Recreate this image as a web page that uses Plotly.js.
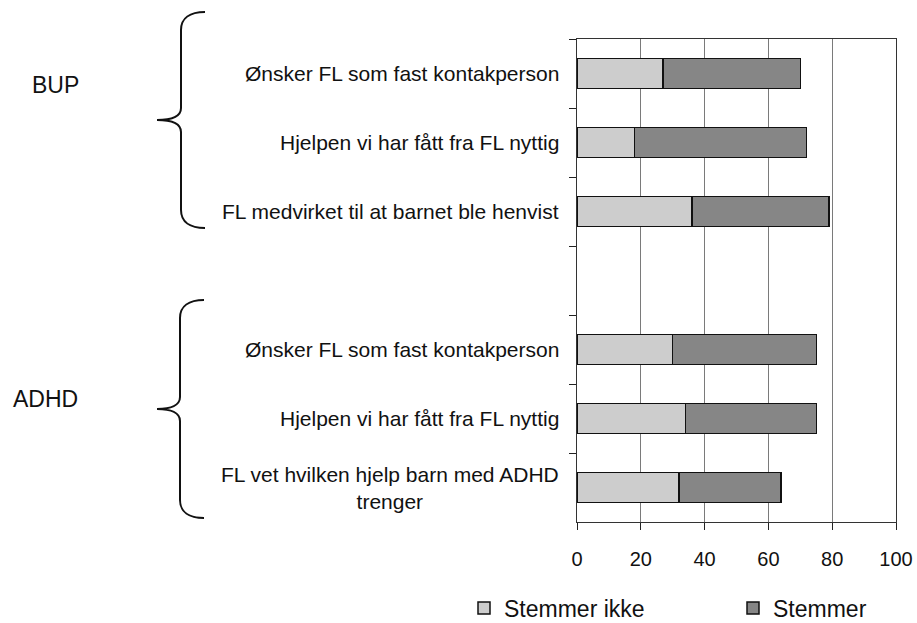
<!DOCTYPE html>
<html>
<head>
<meta charset="utf-8">
<script src="https://cdn.plot.ly/plotly-3.0.1.min.js"></script>
<style>html,body{margin:0;padding:0;background:#fff;}#chart{width:917px;height:623px;}</style>
</head>
<body>
<div id="chart"></div>
<script>
// ---- data ----
var categoryKeys = ["bup1", "bup2", "bup3", "gap", "adhd1", "adhd2", "adhd3"];
var categoryLabels = [
  "Ønsker FL som fast kontakperson",
  "Hjelpen vi har fått fra FL nyttig",
  "FL medvirket til at barnet ble henvist",
  "",
  "Ønsker FL som fast kontakperson",
  "Hjelpen vi har fått fra FL nyttig",
  "FL vet hvilken hjelp barn med ADHD<br>trenger"
];
var stemmerIkke = [27, 18, 36, null, 30, 34, 32];
var stemmer = [43, 54, 43, null, 45, 41, 32];
var seriesNames = ["Stemmer ikke", "Stemmer"];
var groupNames = ["BUP", "ADHD"];
var xTicks = [0, 20, 40, 60, 80, 100];

// ---- layout helpers ----
var W = 917, H = 623;
var M = {l: 577, r: 21, t: 39, b: 101, autoexpand: false};
var pw = W - M.l - M.r, ph = H - M.t - M.b;
function px(x) { return (x - M.l) / pw; }
function py(y) { return (H - M.b - y) / ph; }
function brace(xTip, xLine, xEnd, yTop, yBot) {
  var yMid = (yTop + yBot) / 2;
  var r = 18, k = 12;
  var p = [];
  p.push("M" + px(xEnd) + "," + py(yTop));
  p.push("C" + px(xLine + 9) + "," + py(yTop) + " " + px(xLine) + "," + py(yTop + 6) + " " + px(xLine) + "," + py(yTop + r));
  p.push("L" + px(xLine) + "," + py(yMid - k));
  p.push("C" + px(xLine) + "," + py(yMid - 4) + " " + px(xLine - 9) + "," + py(yMid) + " " + px(xTip) + "," + py(yMid));
  p.push("C" + px(xLine - 9) + "," + py(yMid) + " " + px(xLine) + "," + py(yMid + 4) + " " + px(xLine) + "," + py(yMid + k));
  p.push("L" + px(xLine) + "," + py(yBot - r));
  p.push("C" + px(xLine) + "," + py(yBot - 6) + " " + px(xLine + 9) + "," + py(yBot) + " " + px(xEnd) + "," + py(yBot));
  return p.join(" ");
}

var font = "Liberation Sans, Arial, sans-serif";

var traces = [
  {
    type: "bar", orientation: "h", name: seriesNames[0],
    y: categoryKeys, x: stemmerIkke,
    marker: {color: "#cdcdcd", line: {color: "#111", width: 1.5}},
    hoverinfo: "x+name"
  },
  {
    type: "bar", orientation: "h", name: seriesNames[1],
    y: categoryKeys, x: stemmer,
    marker: {color: "#868686", line: {color: "#111", width: 1.5}},
    hoverinfo: "x+name"
  }
];

var annotations = [];
categoryKeys.forEach(function (k, i) {
  if (!categoryLabels[i]) return;
  annotations.push({
    xref: "paper", yref: "y", x: px(561), y: k,
    xanchor: "right", yanchor: "middle", align: "center",
    text: categoryLabels[i], showarrow: false,
    font: {family: font, size: 21, color: "#111"}
  });
});
annotations.push({xref: "paper", yref: "paper", x: px(55), y: py(85), text: groupNames[0],
  showarrow: false, xanchor: "center", yanchor: "middle", font: {family: font, size: 23, color: "#111"}});
annotations.push({xref: "paper", yref: "paper", x: px(45), y: py(399), text: groupNames[1],
  showarrow: false, xanchor: "center", yanchor: "middle", font: {family: font, size: 23, color: "#111"}});

var shapes = [
  {type: "path", xref: "paper", yref: "paper", path: brace(157, 181, 205, 12, 228), line: {color: "#111", width: 2}},
  {type: "path", xref: "paper", yref: "paper", path: brace(157, 180, 204, 300, 518), line: {color: "#111", width: 2}}
];

var layout = {
  width: W, height: H,
  margin: M,
  paper_bgcolor: "#fff", plot_bgcolor: "#fff",
  barmode: "stack",
  bargap: 0.565,
  showlegend: true,
  legend: {
    orientation: "h", x: px(464), y: py(608), xanchor: "left", yanchor: "middle",
    traceorder: "normal", entrywidth: 224, entrywidthmode: "pixels",
    font: {family: font, size: 23, color: "#111"}, bgcolor: "rgba(0,0,0,0)"
  },
  xaxis: {
    range: [0, 100], tickvals: xTicks, ticktext: xTicks.map(String),
    ticks: "outside", ticklen: 7, tickcolor: "#222", tickwidth: 1,
    showgrid: true, gridcolor: "#7a7a7a", gridwidth: 1,
    showline: true, linecolor: "#333", linewidth: 1, mirror: true,
    zeroline: false, ticklabelstandoff: 12,
    tickfont: {family: font, size: 20, color: "#111"}, fixedrange: true
  },
  yaxis: {
    type: "category", categoryorder: "array", categoryarray: categoryKeys,
    range: [6.5, -0.5], tickson: "boundaries",
    ticks: "outside", ticklen: 7, tickcolor: "#222",
    showticklabels: false, showgrid: false,
    showline: true, linecolor: "#333", linewidth: 1, mirror: true,
    zeroline: false, fixedrange: true
  },
  annotations: annotations,
  shapes: shapes
};

Plotly.newPlot("chart", traces, layout, {staticPlot: true, displayModeBar: false});
</script>
</body>
</html>
